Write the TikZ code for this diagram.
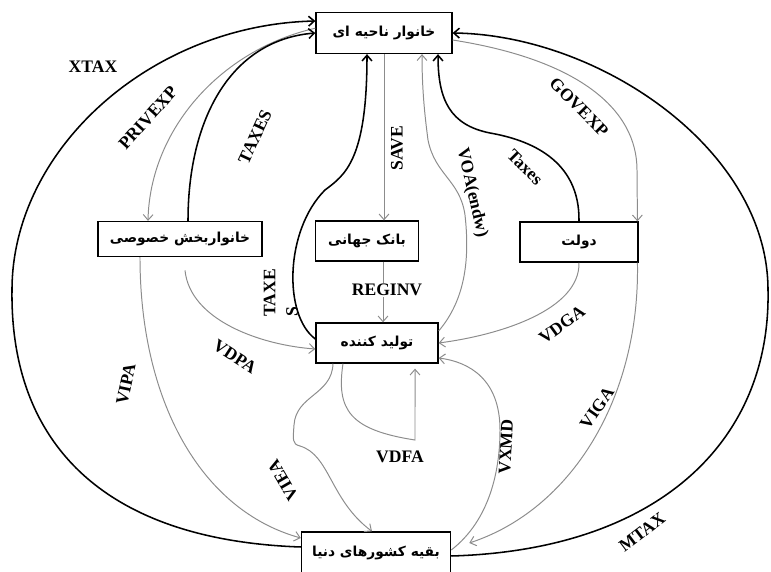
\documentclass[tikz,border=0pt]{standalone}
\usepackage{fontspec}
\setmainfont{Liberation Serif}
\newfontfamily\farsi[Script=Arabic]{DejaVu Sans}
\TeXXeTstate=1
\usepackage{tikz}
\usetikzlibrary{arrows.meta}
\definecolor{flowgray}{RGB}{140,140,140}

\begin{document}
\begin{tikzpicture}[x=0.025cm,y=-0.025cm,
    >={Straight Barb[length=4pt,width=7pt]},
    box/.style={draw,line width=0.9pt,inner sep=0pt,minimum height=1cm,font=\farsi\fontsize{9.8}{12}\selectfont\bfseries},
    flow/.style={draw=flowgray,line width=0.7pt},
    tax/.style={draw=black,line width=1.1pt},
    lbl/.style={inner sep=1pt,font=\fontsize{12.5}{16}\selectfont\bfseries}]
      \useasboundingbox (0,0) rectangle (771,572);
      \node[box,minimum width=3.4cm,minimum height=1.025cm] (reg) at (384,33) {\beginR خانوار ناحیه ای\endR};
      \node[box,minimum width=4.1cm,minimum height=0.875cm] (priv) at (180,239) {\beginR خانواربخش خصوصی\endR};
      \node[box,minimum width=2.58cm] (bank) at (367,241) {\beginR بانک جهانی\endR};
      \node[box,minimum width=2.95cm] (gov) at (579,242) {\beginR دولت\endR};
      \node[box,minimum width=3.05cm] (prod) at (377,343) {\beginR تولید کننده\endR};
      \node[box,minimum width=3.73cm,minimum height=1.05cm] (row) at (376,553) {\beginR بقیه کشورهای دنیا\endR};

      \draw[tax,->] ([yshift=0.15cm]row.west) .. controls (100,540) and (10,440) .. (12,290) .. controls (12,150) and (150,25) .. ([yshift=0.3cm]reg.west);
      \draw[tax,->] ([yshift=-0.075cm]row.east) .. controls (660,550) and (771,440) .. (768,290) .. controls (768,150) and (600,35) .. (reg.east);
      \draw[flow,->] ([yshift=0.12cm]reg.west) .. controls (220,50) and (150,130) .. ([xshift=-0.8cm]priv.north);
      \draw[tax,->] ([xshift=0.2cm]priv.north) .. controls (188,120) and (230,40) .. (reg.west);
      \draw[flow,->] (reg.south) -- (reg.south |- bank.north);
      \draw[tax,->] ([yshift=0.1cm]prod.west) .. controls (283,315) and (285,230) .. (325,190) .. controls (345,175) and (367,160) .. ([xshift=-0.425cm]reg.south);
      \draw[flow,->] ([yshift=0.3cm]prod.east) .. controls (465,300) and (470,260) .. (465,215) .. controls (460,180) and (435,175) .. (428,140) .. controls (424,110) and (422,85) .. ([xshift=0.95cm]reg.south);
      \draw[tax,->] (gov.north) .. controls (580,160) and (530,140) .. (490,133) .. controls (450,125) and (438,100) .. ([xshift=1.35cm]reg.south);
      \draw[flow,->] ([yshift=-0.175cm]reg.east) .. controls (580,60) and (637,110) .. (637,170) -- ([xshift=-0.03cm]gov.north east);
      \draw[flow,->] ([xshift=0.4cm]bank.south) -- ([xshift=0.4cm]bank.south |- prod.north);
      \draw[flow,->] ([xshift=0.125cm,yshift=-0.33cm]priv.south) .. controls (190,320) and (260,345) .. ([yshift=-0.15cm]prod.west);
      \draw[flow,->] ([xshift=-1cm]priv.south) .. controls (140,400) and (200,510) .. ([yshift=0.375cm]row.west);
      \draw[flow,->] (gov.south) .. controls (580,310) and (500,335) .. (prod.east);
      \draw[flow,->] ([xshift=-0.03cm]gov.south east) .. controls (640,400) and (570,510) .. ([xshift=0.45cm,yshift=0.25cm]row.east);
      \draw[flow,->] ([yshift=0.075cm]row.east) .. controls (490,520) and (500,470) .. (500,430) .. controls (500,380) and (470,362) .. ([yshift=-0.375cm]prod.east);
      \draw[flow,->] ([xshift=-1.1cm]prod.south) .. controls (332,395) and (296,395) .. (294,425) .. controls (293,440) and (292,444) .. (300,446) .. controls (330,455) and (330,500) .. ([xshift=-0.1cm]row.north);
      \draw[flow,->] ([xshift=-0.85cm]prod.south) .. controls (336,410) and (350,430) .. (415,440) -- ([xshift=0.95cm,yshift=-0.125cm]prod.south);

      \node[lbl] (xtax) at (93,67) {XTAX};
      \node[lbl,rotate=48] (privexp) at (148,118) {PRIVEXP};
      \node[lbl,rotate=65] (taxesp) at (255,137) {TAXES};
      \node[lbl,rotate=90] (save) at (397,148) {SAVE};
      \node[lbl,rotate=-77] (voa) at (472,193) {VOA(endw)};
      \node[lbl,rotate=-45] (taxesg) at (525,167) {Taxes};
      \node[lbl,rotate=-45] (govexp) at (579,107) {GOVEXP};
      \node[lbl,fill=white] (reginv) at (387,290) {REGINV};
      \node[lbl,rotate=90,align=left] (taxesf) at (281,293) {TAXE\\S};
      \node[lbl,rotate=-33] (vdpa) at (235,357) {VDPA};
      \node[lbl,rotate=78] (vipa) at (126,384) {VIPA};
      \node[lbl,rotate=36] (vdga) at (562,325) {VDGA};
      \node[lbl,rotate=55] (viga) at (597,408) {VIGA};
      \node[lbl,rotate=87] (vxmd) at (506,447) {VXMD};
      \node[lbl,rotate=120] (viea) at (283,480) {VIEA};
      \node[lbl] (vdfa) at (400,457) {VDFA};
      \node[lbl,rotate=37] (mtax) at (642,532) {MTAX};
    \end{tikzpicture}
\end{document}
